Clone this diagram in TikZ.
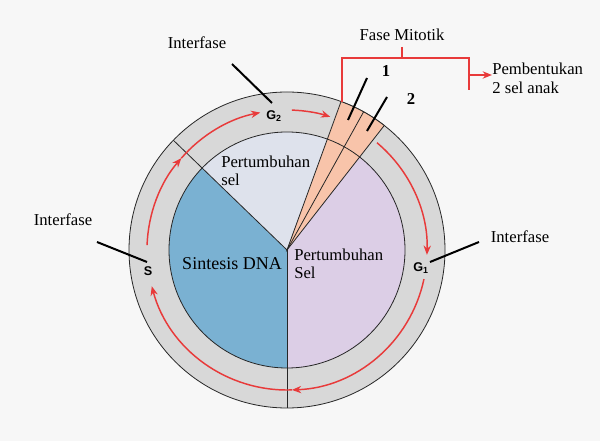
\documentclass[tikz,border=0pt]{standalone}
\usepackage{fontspec}
\setmainfont{Liberation Serif}
\setsansfont{Liberation Sans}
\usetikzlibrary{calc,arrows.meta}

\definecolor{bggray}{RGB}{247,247,247}
\definecolor{ringgray}{RGB}{216,216,216}
\definecolor{dnablue}{RGB}{122,177,210}
\definecolor{gtwolight}{RGB}{222,226,236}
\definecolor{gonelilac}{RGB}{220,206,230}
\definecolor{mitpink}{RGB}{248,196,170}
\definecolor{cyclered}{RGB}{232,58,58}

\begin{document}
\begin{tikzpicture}[x=0.75pt,y=0.75pt,yscale=-1,xscale=1,
  rim/.style={draw=black!85, line width=0.6pt},
  cycarrow/.style={draw=cyclered, line width=1.1pt, -{Stealth[length=7pt,width=5.5pt]}},
  callout/.style={line width=1.5pt},
  phase/.style={font=\sffamily\bfseries\fontsize{9.5}{11}\selectfont, inner sep=0pt},
  lbl/.style={font=\fontsize{12.5}{14}\selectfont, inner sep=0pt, align=left}]

%background, sets the 600x441 frame
\path [fill=bggray] (0,0) rectangle (600,441) ;
\coordinate (C) at (287,250) ;

%Shape: outer ring
\draw [rim, fill=ringgray] (C) circle [radius=158] ;
%Shape: sintesis DNA sector
\fill [dnablue] (C) -- ($(C)+(-136:118)$) arc [start angle=-136, end angle=-270, radius=118] -- cycle ;
%Shape: pertumbuhan sel (G2) sector
\fill [gtwolight] (C) -- ($(C)+(-70:118)$) arc [start angle=-70, end angle=-136, radius=118] -- cycle ;
%Shape: pertumbuhan Sel (G1) sector
\fill [gonelilac] (C) -- ($(C)+(90:118)$) arc [start angle=90, end angle=-52, radius=118] -- cycle ;
%Shape: mitotic wedge
\draw [rim, fill=mitpink] (C) -- ($(C)+(-52:158)$) arc [start angle=-52, end angle=-70, radius=158] -- cycle ;
\draw [rim] (C) -- ($(C)+(-61:158)$) ;
%Shape: inner circle and dividers
\draw [rim] (C) circle [radius=118] ;
\draw [rim] (C) -- ($(C)+(-136:158)$) ;
\draw [rim] (C) -- ($(C)+(90:158)$) ;

%Red cycle arrows
\draw [cycarrow] ($(C)+(-178:140)$) arc [start angle=-178, end angle=-139, radius=140] ;
\draw [cycarrow] ($(C)+(-139:140)$) arc [start angle=-139, end angle=-101, radius=140] ;
\draw [cycarrow] ($(C)+(-88:140)$) arc [start angle=-88, end angle=-72, radius=140] ;
\draw [cycarrow] ($(C)+(-50:140)$) arc [start angle=-50, end angle=2, radius=140] ;
\draw [cycarrow] ($(C)+(12:140)$) arc [start angle=12, end angle=88, radius=140] ;
\draw [cycarrow] ($(C)+(88:140)$) arc [start angle=88, end angle=165, radius=140] ;

%Phase labels
\node [phase] (gtwo) at (274,116) {G\textsubscript{2}} ;
\node [phase] (sph) at (148,271) {S} ;
\node [phase] (gone) at (421,268) {G\textsubscript{1}} ;

%Sector texts
\node [lbl, anchor=west] (growa) at (221,171) {Pertumbuhan\\[-0.5pt]sel} ;
\node [lbl, font=\fontsize{13.5}{15}\selectfont] (dna) at (232,264) {Sintesis DNA} ;
\node [lbl, anchor=west] (growb) at (294,264) {Pertumbuhan\\[-0.5pt]Sel} ;

%Interfase callouts
\node [lbl] (intop) at (197,43) {Interfase} ;
\node [lbl] (inleft) at (63,220) {Interfase} ;
\node [lbl] (inright) at (520,237) {Interfase} ;
\coordinate (tpa) at (232,64) ;
\coordinate (tpb) at (272,103) ;
\coordinate (lfa) at (97,242) ;
\coordinate (lfb) at (147,262) ;
\coordinate (rta) at (430,262) ;
\coordinate (rtb) at (479,242) ;
\draw [callout] (tpa) -- (tpb) ;
\draw [callout] (lfa) -- (lfb) ;
\draw [callout] (rta) -- (rtb) ;

%Mitotic stages
\node [lbl, font=\bfseries\fontsize{12.5}{14}\selectfont] (one) at (386,71) {1} ;
\node [lbl, font=\bfseries\fontsize{12.5}{14}\selectfont] (two) at (411,99) {2} ;
\coordinate (ona) at (367,78) ;
\coordinate (onb) at (348,120) ;
\coordinate (twa) at (387,97) ;
\coordinate (twb) at (367,131) ;
\draw [callout] (ona) -- (onb) ;
\draw [callout] (twa) -- (twb) ;

%Fase Mitotik bracket
\node [lbl] (fase) at (402,35) {Fase Mitotik} ;
\node [lbl, anchor=west] (anak) at (492,78) {Pembentukan\\[0.5pt]2 sel anak} ;
\coordinate (brl) at (342,102) ;
\coordinate (brr) at (469,90) ;
\coordinate (brm) at (469,75) ;
\draw [draw=cyclered, line width=1.1pt] (brl) -- (342,58) -- (469,58) -- (brr) ;
\draw [draw=cyclered, line width=1.1pt] (fase.south |- 0,47) -- (fase.south |- 0,58) ;
\draw [cycarrow] (brm) -- (anak.west |- brm) ;
\end{tikzpicture}
\end{document}
